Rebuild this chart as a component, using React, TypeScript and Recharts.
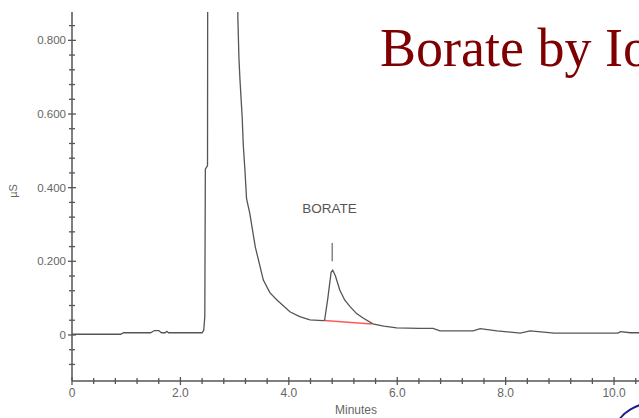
import { LineChart, Line, XAxis, YAxis, ReferenceLine, ReferenceDot } from 'recharts'

// retention time (min) and conductivity (µS)
const minutes = [
  0, 0.9, 0.95, 1.45, 1.52, 1.6, 1.65, 1.72, 1.75, 1.78, 2.4, 2.43, 2.45, 2.46, 2.5, 2.505,
  3.05, 3.06, 3.08, 3.1, 3.14, 3.16, 3.19, 3.22, 3.28, 3.38, 3.53, 3.65, 3.78, 4.02, 4.2, 4.39,
  4.63, 4.66, 4.72, 4.78, 4.81, 4.86, 4.94, 5.03, 5.13, 5.25, 5.37, 5.55, 5.75, 5.99, 6.4, 6.66,
  6.79, 7.4, 7.53, 7.84, 8.27, 8.45, 8.9, 10.07, 10.12, 10.3, 10.46,
]
const conductivity = [
  0.002, 0.002, 0.006, 0.006, 0.012, 0.012, 0.006, 0.006, 0.01, 0.006, 0.006, 0.012, 0.05, 0.45, 0.46, 1.2,
  1.2, 0.86, 0.75, 0.69, 0.59, 0.515, 0.448, 0.37, 0.33, 0.24, 0.149, 0.115, 0.095, 0.063, 0.05, 0.041,
  0.039, 0.04, 0.1, 0.17, 0.176, 0.16, 0.122, 0.095, 0.077, 0.058, 0.046, 0.03, 0.024, 0.019, 0.018, 0.018,
  0.011, 0.011, 0.017, 0.011, 0.005, 0.011, 0.005, 0.005, 0.009, 0.006, 0.006,
]

const xTicks = [0, 0.4, 0.8, 1.2, 1.6, 2, 2.4, 2.8, 3.2, 3.6, 4, 4.4, 4.8, 5.2, 5.6, 6, 6.4, 6.8, 7.2, 7.6, 8, 8.4, 8.8, 9.2, 9.6, 10, 10.4]
const xLabels: Record<string, string> = { '0': '0', '2': '2.0', '4': '4.0', '6': '6.0', '8': '8.0', '10': '10.0' }
const yTicks = [-0.08, -0.04, 0, 0.04, 0.08, 0.12, 0.16, 0.2, 0.24, 0.28, 0.32, 0.36, 0.4, 0.44, 0.48, 0.52, 0.56, 0.6, 0.64, 0.68, 0.72, 0.76, 0.8, 0.84]
const yLabels: Record<string, string> = { '0': '0', '0.2': '0.200', '0.4': '0.400', '0.6': '0.600', '0.8': '0.800' }

const data = minutes.map((t, i) => ({ t, us: conductivity[i] }))

const axisColor = '#555'
const textColor = '#666'

function XTick(props: any) {
  const { x, y, payload } = props
  const label = xLabels[String(payload.value)]
  const h = label !== undefined ? 4 : 3
  return (
    <g>
      <line x1={x} x2={x} y1={y - h} y2={y + h} stroke={axisColor} strokeWidth={1.3} />
      {label !== undefined && (
        <text x={x} y={y + 16} textAnchor="middle" fontSize={12} fill={textColor} fontFamily="Liberation Sans, Arial">
          {label}
        </text>
      )}
    </g>
  )
}

function YTick(props: any) {
  const { x, y, payload } = props
  const label = yLabels[String(payload.value)]
  const h = label !== undefined ? 4 : 3
  return (
    <g>
      <line x1={x - h} x2={x + h} y1={y} y2={y} stroke={axisColor} strokeWidth={1.3} />
      {label !== undefined && (
        <text x={x - 6} y={y + 4} textAnchor="end" fontSize={11.5} fill={textColor} fontFamily="Liberation Sans, Arial">
          {label}
        </text>
      )}
    </g>
  )
}

export default function App() {
  return (
    <div style={{ position: 'absolute', left: 0, top: 0, width: 639, height: 418, overflow: 'hidden', background: '#fff' }}>
      <LineChart width={639} height={418} data={data} margin={{ top: 12, right: 0, bottom: 0, left: 0 }}>
        <XAxis
          dataKey="t"
          type="number"
          domain={[0, 10.46]}
          allowDataOverflow
          ticks={xTicks}
          interval={0}
          tickSize={0}
          tickMargin={0}
          tick={<XTick />}
          height={37}
          stroke={axisColor}
          strokeWidth={1.5}
        />
        <YAxis
          type="number"
          domain={[-0.125, 0.877]}
          allowDataOverflow
          ticks={yTicks}
          interval={0}
          tickSize={0}
          tickMargin={0}
          tick={<YTick />}
          width={72}
          stroke={axisColor}
          strokeWidth={1.5}
        />
        <ReferenceLine
          segment={[{ x: 4.65, y: 0.039 }, { x: 5.53, y: 0.03 }]}
          stroke="#ff5a5a"
          strokeWidth={1.5}
        />
        <ReferenceLine
          segment={[{ x: 4.8, y: 0.2 }, { x: 4.8, y: 0.25 }]}
          stroke="#666"
          strokeWidth={1.2}
        />
        <ReferenceDot
          x={4.75}
          y={0.345}
          r={0}
          label={{ value: 'BORATE', fill: '#555', fontSize: 13.5, fontFamily: 'Liberation Sans, Arial' }}
        />
        <Line
          type="linear"
          dataKey="us"
          stroke="#555"
          strokeWidth={1.3}
          dot={false}
          isAnimationActive={false}
        />
      </LineChart>
      <div
        style={{
          position: 'absolute',
          left: 380,
          top: 21,
          fontFamily: '"Liberation Serif", "Times New Roman", serif',
          fontSize: 54,
          lineHeight: '54px',
          color: '#7f0000',
          whiteSpace: 'nowrap',
        }}
      >
        Borate by Ion Chromatography
      </div>
      <div
        style={{
          position: 'absolute',
          left: 335,
          top: 403,
          fontFamily: 'Liberation Sans, Arial',
          fontSize: 12,
          color: textColor,
        }}
      >
        Minutes
      </div>
      <div
        style={{
          position: 'absolute',
          left: 6,
          top: 185,
          transform: 'rotate(-90deg)',
          fontFamily: 'Liberation Sans, Arial',
          fontSize: 11,
          color: textColor,
        }}
      >
        µS
      </div>
      <div
        style={{
          position: 'absolute',
          left: 615,
          top: 400,
          width: 100,
          height: 60,
          borderRadius: '50%',
          border: '2px solid #1c1c8c',
          boxSizing: 'border-box',
        }}
      />
    </div>
  )
}
